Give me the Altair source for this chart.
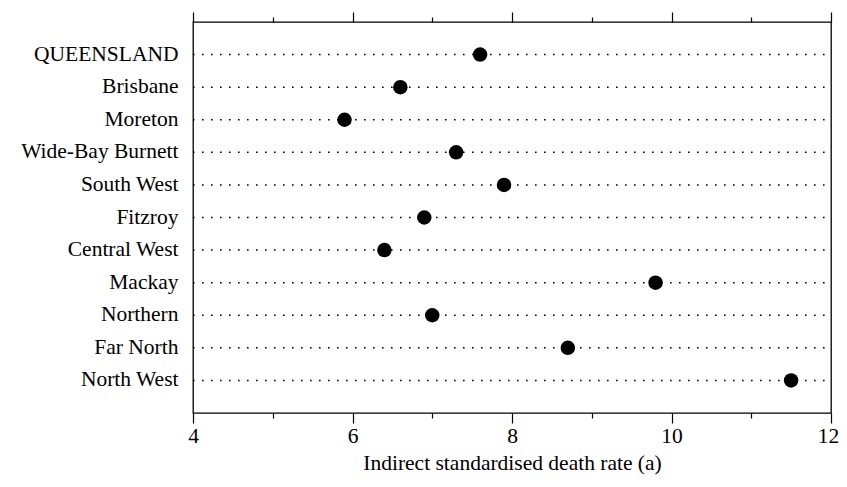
import altair as alt
import pandas as pd

regions = ["QUEENSLAND", "Brisbane", "Moreton", "Wide-Bay Burnett", "South West",
           "Fitzroy", "Central West", "Mackay", "Northern", "Far North", "North West"]
rates = [7.6, 6.6, 5.9, 7.3, 7.9, 6.9, 6.4, 9.8, 7.0, 8.7, 11.5]
x_min, x_max = 4, 12
tick_values = [4, 5, 6, 7, 8, 9, 10, 11, 12]

df = pd.DataFrame({"region": regions, "rate": rates, "lo": x_min, "hi": x_max})

FONT = "Liberation Serif"
xscale = alt.Scale(domain=[x_min, x_max], nice=False, zero=False)
yscale = alt.Scale(domain=regions, padding=1)
minor_dash = {"condition": {"test": "datum.value % 2 !== 0", "value": [5, 30]}, "value": [10, 0]}
last_offset = {"condition": {"test": "datum.value === 12", "value": -3}, "value": 0}

base = alt.Chart(df)

rules = base.mark_rule(color="black", strokeDash=[1.6, 7.4], strokeWidth=1.5).encode(
    y=alt.Y("region:N", scale=yscale, sort=regions,
            axis=alt.Axis(title=None, ticks=False, domain=False, labelFont=FONT,
                          labelFontSize=21.5, labelColor="black", labelPadding=15,
                          labelLimit=300)),
    x=alt.X("lo:Q", scale=xscale,
            axis=alt.Axis(orient="bottom", values=tick_values, tickSize=10,
                          tickDash=minor_dash, labelFlush=False, labelOffset=last_offset,
                          labelExpr="datum.value % 2 === 0 ? datum.label : ''",
                          title="Indirect standardised death rate (a)",
                          titleFont=FONT, titleFontSize=21.5, titleFontWeight="normal",
                          titleColor="black", titlePadding=6,
                          labelFont=FONT, labelFontSize=21.5, labelColor="black",
                          labelPadding=2, domain=False, tickColor="black",
                          tickWidth=1.2, grid=False)),
    x2="hi:Q",
)

dots = base.mark_circle(color="black", opacity=1, size=210).encode(
    y=alt.Y("region:N", scale=yscale, sort=regions),
    x=alt.X("rate:Q", scale=xscale,
            axis=alt.Axis(orient="top", values=tick_values, tickSize=10,
                          tickDash=minor_dash,
                          labels=False, title=None, domain=False,
                          tickColor="black", tickWidth=1.2, grid=False)),
)

chart = alt.layer(rules, dots).properties(
    width=638, height=391,
    autosize=alt.AutoSizeParams(type="none"),
    padding={"left": 185, "top": 14, "right": 8, "bottom": 64},
    background="white",
).configure_view(stroke="black", strokeWidth=1.3)

chart.save("out.html", embed_options={"renderer": "svg", "actions": False})
